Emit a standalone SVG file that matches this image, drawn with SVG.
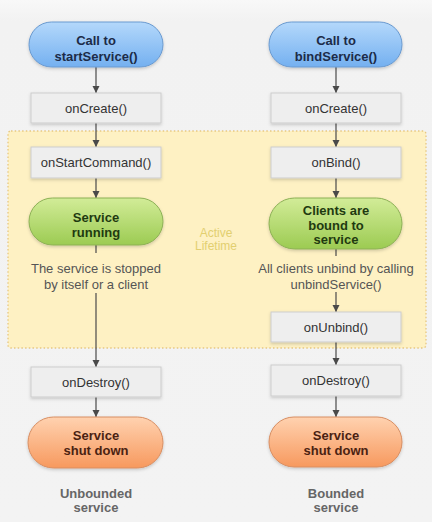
<svg xmlns="http://www.w3.org/2000/svg" width="432" height="522" viewBox="0 0 432 522">
<defs>
<linearGradient id="gBlue" x1="0" y1="0" x2="0" y2="1"><stop offset="0" stop-color="#b4d8fb"/><stop offset="1" stop-color="#74b0f0"/></linearGradient>
<linearGradient id="gGreen" x1="0" y1="0" x2="0" y2="1"><stop offset="0" stop-color="#d2ec98"/><stop offset="1" stop-color="#9ccb52"/></linearGradient>
<linearGradient id="gOrange" x1="0" y1="0" x2="0" y2="1"><stop offset="0" stop-color="#ffd2b0"/><stop offset="1" stop-color="#f7995e"/></linearGradient>
<linearGradient id="gBg" x1="0" y1="0" x2="0" y2="1"><stop offset="0" stop-color="#f8f8f8"/><stop offset="0.04" stop-color="#f2f2f2"/><stop offset="1" stop-color="#f3f3f3"/></linearGradient>
<filter id="sh" x="-10%" y="-20%" width="120%" height="150%"><feDropShadow dx="0" dy="1.5" stdDeviation="1.5" flood-color="#000" flood-opacity="0.18"/></filter>
<marker id="ah" markerWidth="8" markerHeight="8" refX="7" refY="4" orient="auto" markerUnits="userSpaceOnUse"><path d="M0,0.5 L7,4 L0,7.5 Z" fill="#4a4a4a"/></marker>
<style>
.box{fill:#eeeeee;stroke:#cdcdcd;stroke-width:1}
.bt{font-family:"Liberation Sans",Arial,sans-serif;font-size:13px;fill:#333;text-anchor:middle}
.pt{font-family:"Liberation Sans",Arial,sans-serif;font-size:13px;font-weight:bold;text-anchor:middle}
.lbl{font-family:"Liberation Sans",Arial,sans-serif;font-size:13px;fill:#555;text-anchor:middle}
.cap{font-family:"Liberation Sans",Arial,sans-serif;font-size:13px;font-weight:bold;fill:#666;text-anchor:middle}
.ln{stroke:#4a4a4a;stroke-width:1.2;fill:none}
</style>
</defs>
<rect x="0" y="0" width="432" height="522" fill="url(#gBg)"/>
<g id="active-lifetime">
<rect x="8" y="131" width="418" height="217" rx="3" fill="#fef1c3" stroke="#e6c782" stroke-width="1.3" stroke-dasharray="1.5 2.2"/>
<text x="216" y="237" font-family="'Liberation Sans',Arial,sans-serif" font-size="12" fill="#e2cf70" text-anchor="middle">Active</text>
<text x="216" y="250" font-family="'Liberation Sans',Arial,sans-serif" font-size="12" fill="#e2cf70" text-anchor="middle">Lifetime</text>
</g>
<g id="connectors">
<line class="ln" x1="96" y1="67" x2="96" y2="93" marker-end="url(#ah)"/>
<line class="ln" x1="96" y1="123" x2="96" y2="147" marker-end="url(#ah)"/>
<line class="ln" x1="96" y1="178" x2="96" y2="198" marker-end="url(#ah)"/>
<line class="ln" x1="96" y1="245" x2="96" y2="253"/>
<line class="ln" x1="96" y1="293" x2="96" y2="367" marker-end="url(#ah)"/>
<line class="ln" x1="96" y1="397" x2="96" y2="417" marker-end="url(#ah)"/>
<line class="ln" x1="336" y1="67" x2="336" y2="93" marker-end="url(#ah)"/>
<line class="ln" x1="336" y1="123" x2="336" y2="147" marker-end="url(#ah)"/>
<line class="ln" x1="336" y1="178" x2="336" y2="198" marker-end="url(#ah)"/>
<line class="ln" x1="336" y1="249" x2="336" y2="256"/>
<line class="ln" x1="336" y1="292" x2="336" y2="312" marker-end="url(#ah)"/>
<line class="ln" x1="336" y1="342" x2="336" y2="365" marker-end="url(#ah)"/>
<line class="ln" x1="336" y1="396" x2="336" y2="417" marker-end="url(#ah)"/>
</g>
<g id="call-start">
<rect x="29" y="22" width="134" height="45" rx="22.5" fill="url(#gBlue)" stroke="#6a9ad0" filter="url(#sh)"/>
<text class="pt" x="96" y="45" fill="#1c2b48">Call to</text>
<text class="pt" x="96" y="60.5" fill="#1c2b48">startService()</text>
</g>
<g id="call-bind">
<rect x="269" y="22" width="133" height="45" rx="22.5" fill="url(#gBlue)" stroke="#6a9ad0" filter="url(#sh)"/>
<text class="pt" x="336" y="45" fill="#1c2b48">Call to</text>
<text class="pt" x="336" y="60.5" fill="#1c2b48">bindService()</text>
</g>
<g id="oncreate-left">
<rect class="box" x="31" y="93" width="130" height="30" filter="url(#sh)"/>
<text class="bt" x="96" y="112.5">onCreate()</text>
</g>
<g id="oncreate-right">
<rect class="box" x="271" y="93" width="130" height="30" filter="url(#sh)"/>
<text class="bt" x="336" y="112.5">onCreate()</text>
</g>
<g id="onstartcommand">
<rect class="box" x="31" y="147" width="130" height="31" filter="url(#sh)"/>
<text class="bt" x="96" y="167">onStartCommand()</text>
</g>
<g id="onbind">
<rect class="box" x="271" y="147" width="130" height="31" filter="url(#sh)"/>
<text class="bt" x="336" y="167">onBind()</text>
</g>
<g id="service-running">
<rect x="29" y="198" width="134" height="47" rx="23.5" fill="url(#gGreen)" stroke="#8cb055" filter="url(#sh)"/>
<text class="pt" x="96" y="222" fill="#1f3a10">Service</text>
<text class="pt" x="96" y="236.5" fill="#1f3a10">running</text>
</g>
<g id="clients-bound">
<rect x="269" y="198" width="133" height="51" rx="25.5" fill="url(#gGreen)" stroke="#8cb055" filter="url(#sh)"/>
<text class="pt" x="336" y="215" fill="#1f3a10">Clients are</text>
<text class="pt" x="336" y="229.5" fill="#1f3a10">bound to</text>
<text class="pt" x="336" y="244" fill="#1f3a10">service</text>
</g>
<g id="stop-label">
<text class="lbl" x="96" y="273">The service is stopped</text>
<text class="lbl" x="96" y="289">by itself or a client</text>
</g>
<g id="unbind-label">
<text class="lbl" x="336" y="273">All clients unbind by calling</text>
<text class="lbl" x="336" y="289">unbindService()</text>
</g>
<g id="onunbind">
<rect class="box" x="271" y="312" width="130" height="30" filter="url(#sh)"/>
<text class="bt" x="336" y="331.5">onUnbind()</text>
</g>
<g id="ondestroy-left">
<rect class="box" x="31" y="367" width="130" height="30" filter="url(#sh)"/>
<text class="bt" x="96" y="386.5">onDestroy()</text>
</g>
<g id="ondestroy-right">
<rect class="box" x="271" y="365" width="130" height="31" filter="url(#sh)"/>
<text class="bt" x="336" y="385">onDestroy()</text>
</g>
<g id="shutdown-left">
<rect x="28" y="417" width="135" height="51" rx="25.5" fill="url(#gOrange)" stroke="#d88e62" filter="url(#sh)"/>
<text class="pt" x="96" y="440" fill="#4a2212">Service</text>
<text class="pt" x="96" y="454.5" fill="#4a2212">shut down</text>
</g>
<g id="shutdown-right">
<rect x="269" y="417" width="133" height="50" rx="25" fill="url(#gOrange)" stroke="#d88e62" filter="url(#sh)"/>
<text class="pt" x="336" y="440" fill="#4a2212">Service</text>
<text class="pt" x="336" y="454.5" fill="#4a2212">shut down</text>
</g>
<g id="caption-left">
<text class="cap" x="96" y="498">Unbounded</text>
<text class="cap" x="96" y="512">service</text>
</g>
<g id="caption-right">
<text class="cap" x="336" y="498">Bounded</text>
<text class="cap" x="336" y="512">service</text>
</g>
</svg>
